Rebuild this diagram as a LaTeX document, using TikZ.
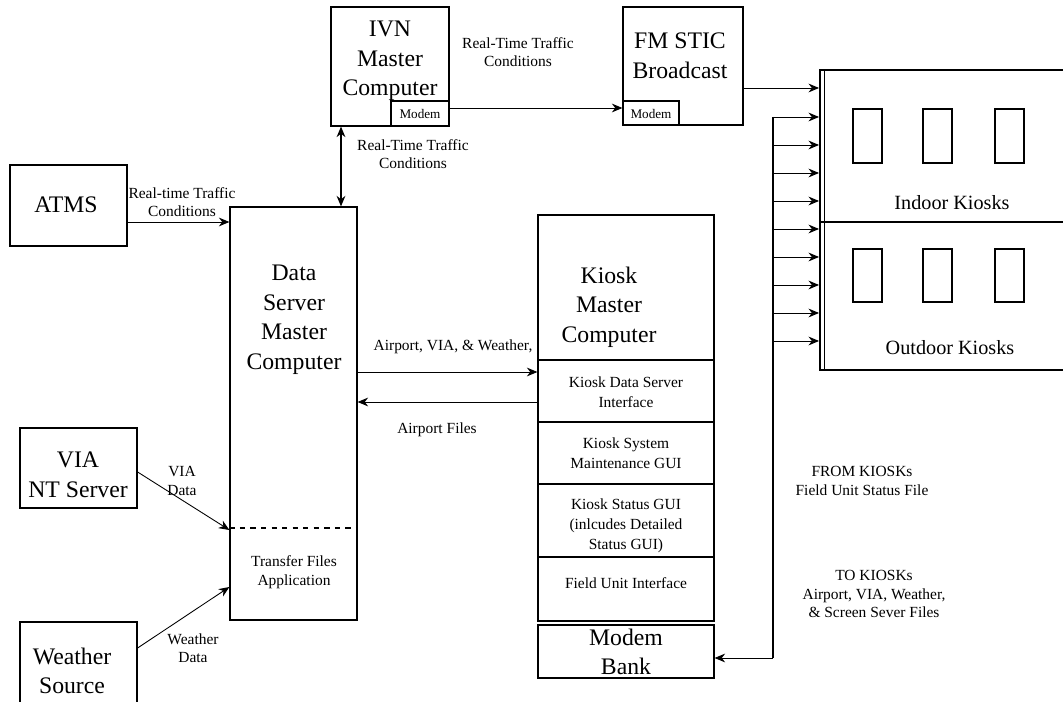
\documentclass[tikz,border=0pt]{standalone}
\usepackage{fontspec}
\setmainfont{Liberation Serif}
\usetikzlibrary{arrows.meta,fit}

\tikzset{
  box/.style={draw, line width=0.7pt, inner sep=0pt},
  subbox/.style={box, line width=1.1pt},
  bigtxt/.style={font=\fontsize{13.5}{16.8}\selectfont, align=center},
  smalltxt/.style={font=\fontsize{8.8}{10.5}\selectfont, align=center},
  guitxt/.style={font=\fontsize{8.8}{11.5}\selectfont, align=center},
  kiosktxt/.style={font=\fontsize{11.5}{13}\selectfont},
  modemtxt/.style={font=\fontsize{7.5}{8}\selectfont},
  flow/.style={-{Stealth[length=6pt,width=5pt]}, line width=0.5pt},
}

\begin{document}
\begin{tikzpicture}[x=0.02cm, y=-0.02cm]
\useasboundingbox (0,0) rectangle (1063,702);
\clip (0,0) rectangle (1063,702);

% sources
\node[box, fit={(10,165) (127,246)}] (atms) {};
\node[bigtxt] (atmst) at (66,205) {ATMS};
\node[box, fit={(20,428) (137,508)}] (via) {};
\node[bigtxt] (viat) at (78,475) {VIA\\NT Server};
\node[box, fit={(20,622) (137,720)}] (weather) {};
\node[bigtxt] (weathert) at (72,671) {Weather\\Source};

% data server
\node[box, fit={(230,207) (357,620)}] (dss) {};
\node[bigtxt] (dsst) at (294,320) {Data\\Server\\Master\\Computer};
\draw[dashed, line width=0.7pt] (dss.west |- 0,528) -- (dss.east |- 0,528);
\node[smalltxt] (tfa) at (294,572) {Transfer Files\\Application};

% ivn and fm stic
\node[box, fit={(331,7) (449,126)}] (ivn) {};
\node[bigtxt] (ivnt) at (390,61) {IVN\\Master\\Computer};
\node[box, fit={(391,101) (449,126)}] (ivnm) {};
\node[modemtxt] (ivnmt) at (420,114) {Modem};
\node[box, fit={(623,7) (743,125)}] (fm) {};
\node[bigtxt] (fmt) at (680,56) {FM STIC\\Broadcast};
\node[box, fit={(623,101) (679,125)}] (fmm) {};
\node[modemtxt] (fmmt) at (651,114) {Modem};

% kiosk master computer
\node[box, fit={(538,215) (714,360)}] (kmc) {};
\node[bigtxt] (kmct) at (609,307) {Kiosk\\Master\\Computer};
\node[box, fit={(538,360) (714,422)}] (kds) {};
\node[guitxt] (kdst) at (626,392) {Kiosk Data Server\\Interface};
\node[subbox, fit={(538,422) (714,484)}] (ksm) {};
\node[guitxt] (ksmt) at (626,453) {Kiosk System\\Maintenance GUI};
\node[subbox, fit={(538,484) (714,557)}] (kst) {};
\node[guitxt] (kstt) at (626,526) {Kiosk Status GUI\\(inlcudes Detailed\\Status GUI)};
\node[subbox, fit={(538,557) (714,621)}] (fui) {};
\node[guitxt] (fuit) at (626,583) {Field Unit Interface};
\node[box, fit={(538,625) (714,678)}] (mb) {};
\node[bigtxt] (mbt) at (626,652) {Modem\\Bank};

% kiosks
\node[box, line width=1.1pt, fit={(820,70) (1080,222)}] (indoor) {};
\node[box, line width=1.1pt, fit={(820,222) (1080,370)}] (outdoor) {};
\draw[line width=0.5pt] ([xshift=0.1cm]indoor.north west) -- ([xshift=0.1cm]outdoor.south west);
\node[kiosktxt] (indoort) at (952,203) {Indoor Kiosks};
\node[kiosktxt] (outdoort) at (950,348) {Outdoor Kiosks};
\foreach \x in {853,923,995} {
  \draw[line width=0.6pt] (\x,109) rectangle ++(29,54);
  \draw[line width=0.6pt] (\x,249) rectangle ++(29,53);
}

% connectors
\draw[flow] (atms.east |- 0,222) -- (dss.west |- 0,222);
\node[smalltxt] (l1) at (182,202) {Real-time Traffic\\Conditions};
\draw[{Stealth[length=6pt,width=5pt]}-{Stealth[length=6pt,width=5pt]}, line width=0.7pt] (ivn.south -| 341,0) -- (dss.north -| 341,0);
\node[smalltxt] (l2) at (413,154) {Real-Time Traffic\\Conditions};
\draw[flow] (ivnm.east |- 0,108) -- (fmm.west |- 0,108);
\node[smalltxt] (l3) at (518,52) {Real-Time Traffic\\Conditions};
\draw[flow] (fm.east |- 0,88) -- (indoor.west |- 0,88);
\draw[flow] (dss.east |- 0,372) -- (kds.west |- 0,372);
\node[smalltxt] (l4) at (453,347) {Airport, VIA, \& Weather,};
\draw[flow] (kds.west |- 0,402) -- (dss.east |- 0,402);
\node[smalltxt] (l5) at (437,430) {Airport Files};
\draw[flow] (via.east |- 0,472) -- (dss.west |- 0,530);
\node[smalltxt] (l6) at (182,481) {VIA\\Data};
\draw[flow] (weather.east |- 0,648) -- (dss.west |- 0,587);
\node[smalltxt] (l7) at (193,648) {Weather\\Data};

% field unit bus
\coordinate (bustop) at (773,117);
\coordinate (busbot) at (773,658);
\draw[line width=0.7pt] (bustop) -- (busbot);
\foreach \y in {117,145,...,341} {
  \draw[flow] (bustop |- 0,\y) -- (indoor.west |- 0,\y);
}
\draw[flow] (busbot) -- (mb.east |- busbot);
\node[smalltxt] (l8) at (862,481) {FROM KIOSKs\\Field Unit Status File};
\node[smalltxt] (l9) at (874,594) {TO KIOSKs\\Airport, VIA, Weather,\\\& Screen Sever Files};
\end{tikzpicture}
\end{document}
